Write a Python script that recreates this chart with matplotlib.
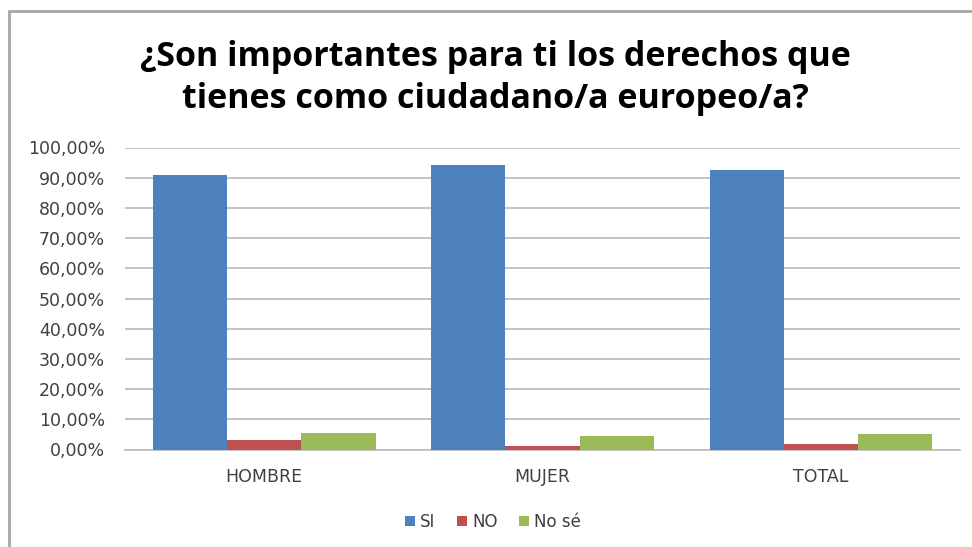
import matplotlib
matplotlib.use("Agg")
import matplotlib.pyplot as plt
import numpy as np
from matplotlib.patches import Rectangle

categories = ["HOMBRE", "MUJER", "TOTAL"]
series_names = ["SI", "NO", "No sé"]
si = [91.0, 94.1, 92.5]
no = [3.0, 1.0, 1.7]
nose = [5.5, 4.4, 5.1]
colors = ["#4F81BD", "#C0504D", "#9BBB59"]
yticks = [0, 10, 20, 30, 40, 50, 60, 70, 80, 90, 100]
title = "¿Son importantes para ti los derechos que\ntienes como ciudadano/a europeo/a?"

W, H = 972, 547
fig = plt.figure(figsize=(W / 100, H / 100), dpi=100)
fig.patch.set_facecolor("white")

# outer frame (only top and left visible in the reference)
fig.add_artist(Rectangle((8.5 / W, -0.1), 1.2, (H - 11) / H + 0.1, transform=fig.transFigure,
                         fill=False, edgecolor="#A6A6A6", linewidth=2.0))

left, right = 125, 960
bottom, top = 449.5, 147.5
ax = fig.add_axes([left / W, 1 - bottom / H, (right - left) / W, (bottom - top) / H])

x = np.arange(len(categories))
bw = 0.8 / 3
for i, (vals, c, name) in enumerate(zip([si, no, nose], colors, series_names)):
    ax.bar(x + (i - 1) * bw, np.array(vals) / 100, width=bw, color=c, label=name, zorder=3)

ax.set_xlim(-0.5, len(categories) - 0.5)
ax.set_ylim(0, 1)
ax.set_yticks([v / 100 for v in yticks])
ax.set_yticklabels([f"{v:.2f}%".replace(".", ",") for v in yticks])
ax.set_xticks(x)
ax.set_xticklabels(categories)
ax.grid(axis="y", color="#BFBFBF", linewidth=1.3, zorder=0)
for s in ["top", "right", "left"]:
    ax.spines[s].set_visible(False)
ax.spines["bottom"].set_color("#BFBFBF")
ax.spines["bottom"].set_linewidth(1.3)
ax.tick_params(axis="both", length=0, labelsize=12.5, labelcolor="#404040", colors="#404040")
ax.tick_params(axis="y", pad=14.4)
ax.tick_params(axis="x", pad=13)
for lbl in ax.get_xticklabels() + ax.get_yticklabels():
    lbl.set_fontfamily("DejaVu Sans")

fig.text(495 / W, 1 - 78 / H, title, ha="center", va="center", fontsize=24.5, fontweight="bold",
         family="Open Sans", color="black", linespacing=1.3)

leg = fig.legend(loc="center", bbox_to_anchor=(493 / W, 1 - 522 / H), ncol=3, frameon=False,
                 prop={"family": "DejaVu Sans", "size": 12}, handlelength=0.6, handleheight=0.6,
                 handletextpad=0.3, columnspacing=1.3)
for t in leg.get_texts():
    t.set_color("#404040")

fig.savefig("out.png", dpi=100, facecolor="white")
